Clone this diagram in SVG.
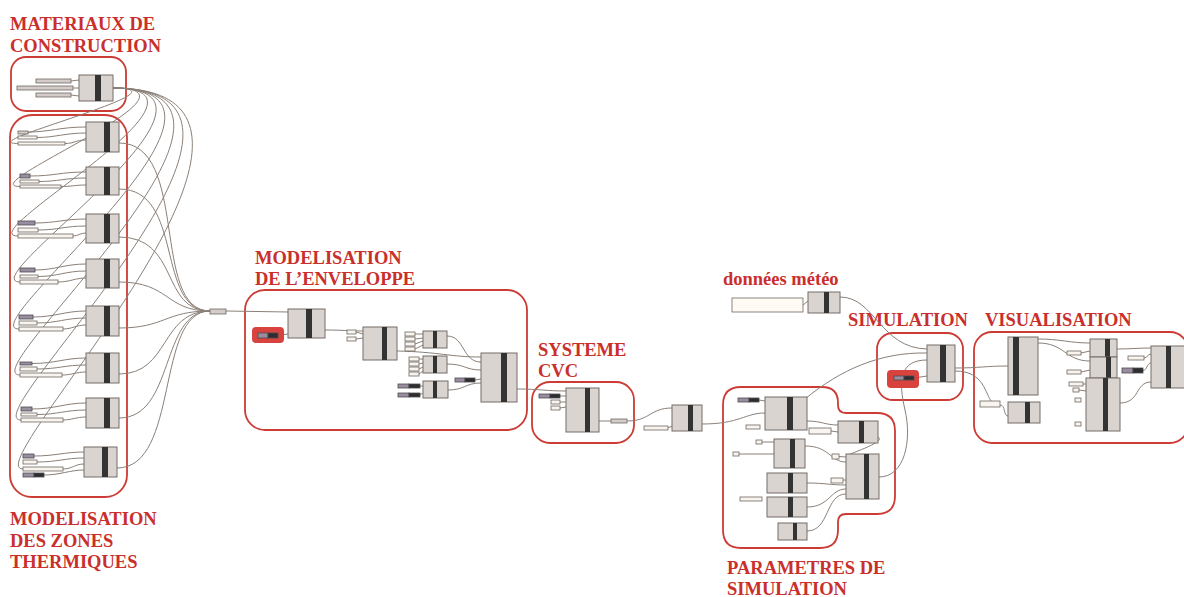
<svg xmlns="http://www.w3.org/2000/svg" width="1184" height="597" viewBox="0 0 1184 597">
<style>
.lbl{font-family:"Liberation Serif","Times New Roman",serif;font-weight:bold;font-size:18.5px;fill:#c9302c}
.grp{fill:none;stroke:#cd3b35;stroke-width:1.8}
.c{fill:#dad4d1;stroke:#746c67;stroke-width:1}
.b{fill:#333}
.w{fill:none;stroke:#8a8078;stroke-width:1}
.p{fill:#f8f4ef;stroke:#6e6661;stroke-width:0.8}
.g{fill:#d3ccc8;stroke:#6e6661;stroke-width:0.8}
.u{fill:#998ea0;stroke:#4d4a4f;stroke-width:0.8}
.d{fill:#2e2e2e;stroke:#4d4a4f;stroke-width:0.8}
.hl{fill:#d8443d}
</style>
<rect width="1184" height="597" fill="#ffffff"/>

<g id="labels">
<text class="lbl" x="10" y="30">MATERIAUX DE</text>
<text class="lbl" x="10" y="52">CONSTRUCTION</text>
<text class="lbl" x="10" y="525">MODELISATION</text>
<text class="lbl" x="10" y="547">DES ZONES</text>
<text class="lbl" x="10" y="568">THERMIQUES</text>
<text class="lbl" x="255" y="264">MODELISATION</text>
<text class="lbl" x="255" y="285">DE L’ENVELOPPE</text>
<text class="lbl" x="538" y="356">SYSTEME</text>
<text class="lbl" x="538" y="377">CVC</text>
<text class="lbl" x="723" y="285">données météo</text>
<text class="lbl" x="848" y="326">SIMULATION</text>
<text class="lbl" x="985" y="326">VISUALISATION</text>
<text class="lbl" x="727" y="574">PARAMETRES DE</text>
<text class="lbl" x="727" y="595">SIMULATION</text>
</g>

<g id="groups">
<rect class="grp" x="11" y="57" width="115" height="54" rx="15"/>
<rect class="grp" x="10" y="115" width="117" height="382" rx="22"/>
<rect class="grp" x="245" y="290" width="282" height="140" rx="20"/>
<rect class="grp" x="532" y="382" width="102" height="61" rx="18"/>
<rect class="grp" x="877" y="333" width="86" height="67" rx="16"/>
<rect class="grp" x="974" y="332" width="214" height="111" rx="18"/>
<path class="grp" d="M741,387 H822 Q838,387 838,403 V405 Q838,413 846,413 H877 Q895,413 895,431 V496 Q895,514 877,514 H846 Q838,514 838,522 V530 Q838,548 820,548 H741 Q723,548 723,530 V405 Q723,387 741,387 Z"/>
</g>

<g id="connectors">
<!-- materiaux inputs -->
<path class="w" d="M71,81 L79,80 M73,88 L79,88 M71,95 L79,96"/>
<!-- materiaux to zones -->
<path class="w" d="M113,88 C 197,88 -32,143.5 18,143.5"/>
<path class="w" d="M113,88 C 219,88 -30,186.5 20,186.5"/>
<path class="w" d="M113,88 C 241,88 -32,236 18,236"/>
<path class="w" d="M113,88 C 263,88 -30,282 20,282"/>
<path class="w" d="M113,88 C 285,88 -31,329 19,329"/>
<path class="w" d="M113,88 C 307,88 -30,375 20,375"/>
<path class="w" d="M113,88 C 329,88 -29,420 21,420"/>
<path class="w" d="M113,88 C 351,88 -27,469 23,469"/>
<!-- zone param wires -->
<path class="w" d="M28,132 C 50,132 60,127 86,127 M37,137.5 C 55,137.5 65,133 86,133 M65,143.5 C 75,143.5 75,140 86,140"/>
<path class="w" d="M30,176 C 55,176 60,172 86,172 M39,181.5 C 58,181.5 65,178 86,178 M61,186.5 C 72,186.5 75,185 86,185"/>
<path class="w" d="M35,223 C 55,223 65,219 86,219 M38,230 C 58,230 65,226 86,226 M73,236 C 78,236 80,233 86,233"/>
<path class="w" d="M35,270 C 55,270 65,264 86,264 M38,276.5 C 58,276.5 65,271 86,271 M58,282 C 70,282 75,278 86,278"/>
<path class="w" d="M33,317 C 55,317 65,311 86,311 M37,323 C 58,323 65,318 86,318 M63,329 C 72,329 76,325 86,325"/>
<path class="w" d="M32,363.5 C 55,363.5 65,358 86,358 M37,369 C 58,369 65,365 86,365 M62,375 C 72,375 76,372 86,372"/>
<path class="w" d="M32,409 C 55,409 65,403 86,403 M37,414.5 C 58,414.5 65,410 86,410 M63,420 C 72,420 76,417 86,417"/>
<path class="w" d="M34,456 C 55,456 65,452 84,452 M37,462 C 58,462 65,458 84,458 M63,469 C 72,469 75,464 84,464 M44,475 C 60,475 70,470 84,470"/>
<!-- zones to collector -->
<path class="w" d="M119,143 C 190,143 150,311 210,311"/>
<path class="w" d="M119,189 C 185,189 155,311 210,311"/>
<path class="w" d="M119,237 C 180,237 160,311 210,311"/>
<path class="w" d="M119,282 C 170,282 165,311 210,311"/>
<path class="w" d="M119,328 C 165,328 165,311 210,311"/>
<path class="w" d="M119,374 C 170,374 160,311 210,311"/>
<path class="w" d="M119,418 C 175,418 160,311 210,311"/>
<path class="w" d="M117,468 C 180,468 155,311 210,311"/>
<!-- enveloppe -->
<path class="w" d="M226,311 L288,312"/>
<path class="w" d="M278,335.5 L288,334"/>
<path class="w" d="M325,330 C 345,330 345,331 363,331"/>
<path class="w" d="M356,332 L363,334 M356,339 L363,338"/>
<path class="w" d="M415,334 L423,334 M415,339 L423,338 M415,344 L423,341 M415,349 L423,345"/>
<path class="w" d="M419,359 L423,359 M419,364 L423,363 M419,369 L423,367 M419,374 L423,371"/>
<path class="w" d="M420,386 L423,386 M420,395 L423,393"/>
<path class="w" d="M397,351 C 440,352 450,357 481,357"/>
<path class="w" d="M447,336 C 465,336 462,362 481,362"/>
<path class="w" d="M447,364 C 465,364 465,370 481,370"/>
<path class="w" d="M448,390 C 465,390 465,383 481,383"/>
<path class="w" d="M475,380 L481,379"/>
<path class="w" d="M517,389 C 540,389 545,391 566,391"/>
<!-- cvc -->
<path class="w" d="M560,396 L566,396 M560,402 L566,402 M560,408 L566,407"/>
<path class="w" d="M599,421 L611,421"/>
<path class="w" d="M627,421 C 650,421 650,408 672,408"/>
<path class="w" d="M668,428 L672,426"/>
<path class="w" d="M702,424 C 740,424 745,413 765,413"/>
<!-- meteo / sim -->
<path class="w" d="M803,305 L808,301"/>
<path class="w" d="M840,297 C 875,297 880,348 927,349"/>
<path class="w" d="M805,399 C 840,370 880,352 927,353"/>
<path class="w" d="M914,378 L927,376"/>
<path class="w" d="M879,477 C 905,477 912,440 905,410 C 898,380 900,360 927,360"/>
<path class="w" d="M955,368 C 980,368 985,366 1008,366"/>
<path class="w" d="M955,371 C 985,371 985,395 992,402"/>
<!-- params -->
<path class="w" d="M759,400 L765,401"/>
<path class="w" d="M807,421 C 822,421 825,425 838,425"/>
<path class="w" d="M831,431 L838,432"/>
<path class="w" d="M762,442 L774,442 M739,454 L774,454"/>
<path class="w" d="M805,446 C 830,446 830,462 846,462"/>
<path class="w" d="M878,437 C 886,441 860,450 848,455"/>
<path class="w" d="M839,456.5 L846,457"/>
<path class="w" d="M807,483 C 825,483 830,485 846,485 M843,480 L846,480"/>
<path class="w" d="M807,507 C 830,507 830,489 846,489"/>
<path class="w" d="M807,531 C 830,531 825,494 846,494"/>
<!-- visu -->
<path class="w" d="M1000,405 C 1006,405 1003,416 1008,416"/>
<path class="w" d="M1038,339 C 1060,339 1070,343 1090,343"/>
<path class="w" d="M1038,343 C 1065,343 1065,361 1090,361"/>
<path class="w" d="M1081,353 L1090,351 M1081,372 L1090,370 M1083,384 L1086,384 M1079,390 L1086,391"/>
<path class="w" d="M1117,349 C 1130,349 1138,348 1151,348"/>
<path class="w" d="M1144,358 C 1148,358 1147,354 1151,354 M1143,370.5 C 1147,370.5 1147,363 1151,363"/>
<path class="w" d="M1120,403 C 1140,403 1135,382 1151,382"/>
</g>

<g id="materiaux">
<rect class="g" x="36" y="79" width="35" height="4"/>
<rect class="g" x="17" y="86" width="56" height="4"/>
<rect class="g" x="36" y="93" width="35" height="4"/>
<rect class="c" x="79" y="75" width="34" height="26"/><rect class="b" x="95" y="75" width="6" height="26"/>
</g>

<g id="zone1">
<rect class="g" x="18" y="131" width="10" height="3"/><rect class="p" x="18" y="136" width="19" height="3"/><rect class="p" x="18" y="142" width="47" height="3"/>
<rect class="c" x="86" y="122" width="33" height="30"/><rect class="b" x="104" y="122" width="6" height="30"/>
</g>
<g id="zone2">
<rect class="u" x="20" y="174" width="10" height="4"/><rect class="p" x="20" y="180" width="19" height="3"/><rect class="p" x="20" y="185" width="41" height="3"/>
<rect class="c" x="86" y="167" width="33" height="28"/><rect class="b" x="104" y="167" width="6" height="28"/>
</g>
<g id="zone3">
<rect class="u" x="18" y="221" width="17" height="4"/><rect class="p" x="18" y="228" width="20" height="4"/><rect class="p" x="18" y="234" width="55" height="4"/>
<rect class="c" x="86" y="214" width="33" height="29"/><rect class="b" x="104" y="214" width="6" height="29"/>
</g>
<g id="zone4">
<rect class="u" x="20" y="268" width="15" height="4"/><rect class="p" x="20" y="275" width="18" height="3"/><rect class="p" x="20" y="280" width="38" height="4"/>
<rect class="c" x="86" y="259" width="33" height="29"/><rect class="b" x="104" y="259" width="6" height="29"/>
</g>
<g id="zone5">
<rect class="u" x="19" y="315" width="14" height="4"/><rect class="p" x="19" y="321" width="18" height="4"/><rect class="p" x="19" y="327" width="44" height="4"/>
<rect class="c" x="86" y="306" width="33" height="30"/><rect class="b" x="104" y="306" width="6" height="30"/>
</g>
<g id="zone6">
<rect class="u" x="20" y="362" width="12" height="3"/><rect class="p" x="20" y="367" width="17" height="4"/><rect class="p" x="20" y="373" width="42" height="4"/>
<rect class="c" x="86" y="353" width="33" height="30"/><rect class="b" x="104" y="353" width="6" height="30"/>
</g>
<g id="zone7">
<rect class="u" x="21" y="407" width="11" height="4"/><rect class="p" x="21" y="413" width="16" height="3"/><rect class="p" x="21" y="418" width="42" height="4"/>
<rect class="c" x="86" y="398" width="33" height="30"/><rect class="b" x="104" y="398" width="6" height="30"/>
</g>
<g id="zone8">
<rect class="u" x="23" y="454" width="11" height="4"/><rect class="p" x="23" y="460" width="14" height="4"/><rect class="p" x="23" y="467" width="40" height="4"/>
<rect class="u" x="23" y="473" width="11" height="4"/><rect class="d" x="34" y="473" width="10" height="4"/>
<rect class="c" x="84" y="447" width="33" height="30"/><rect class="b" x="102" y="447" width="6" height="30"/>
</g>
<g id="collector"><rect class="g" x="210" y="309" width="16" height="5"/></g>

<g id="enveloppe">
<rect class="hl" x="252" y="327" width="32" height="16" rx="4"/>
<rect class="u" x="258" y="333" width="10" height="5"/><rect class="d" x="268" y="333" width="10" height="5"/>
<rect class="c" x="288" y="309" width="37" height="29"/><rect class="b" x="306" y="309" width="6" height="29"/>
<rect class="p" x="347" y="330" width="9" height="4"/><rect class="p" x="347" y="337" width="9" height="4"/>
<rect class="c" x="363" y="327" width="34" height="33"/><rect class="b" x="382" y="327" width="5" height="33"/>
<rect class="p" x="405" y="332" width="10" height="4"/><rect class="p" x="405" y="337" width="10" height="4"/><rect class="p" x="405" y="342" width="10" height="4"/><rect class="p" x="405" y="347" width="10" height="4"/>
<rect class="c" x="423" y="331" width="24" height="17"/><rect class="b" x="433" y="331" width="4" height="17"/>
<rect class="p" x="409" y="357" width="10" height="4"/><rect class="p" x="409" y="362" width="10" height="4"/><rect class="p" x="409" y="367" width="10" height="4"/><rect class="p" x="409" y="372" width="10" height="4"/>
<rect class="c" x="423" y="356" width="24" height="17"/><rect class="b" x="433" y="356" width="4" height="17"/>
<rect class="u" x="398" y="384" width="11" height="4"/><rect class="d" x="409" y="384" width="11" height="4"/>
<rect class="u" x="398" y="393" width="11" height="4"/><rect class="d" x="409" y="393" width="11" height="4"/>
<rect class="c" x="423" y="381" width="25" height="17"/><rect class="b" x="433" y="381" width="4" height="17"/>
<rect class="u" x="455" y="378" width="10" height="4"/><rect class="d" x="465" y="378" width="10" height="4"/>
<rect class="c" x="481" y="353" width="36" height="49"/><rect class="b" x="501" y="353" width="6" height="49"/>
</g>

<g id="cvc">
<rect class="u" x="539" y="394" width="11" height="4"/><rect class="d" x="550" y="394" width="10" height="4"/>
<rect class="p" x="551" y="400" width="9" height="4"/><rect class="p" x="551" y="406" width="9" height="4"/>
<rect class="c" x="566" y="388" width="33" height="44"/><rect class="b" x="585" y="388" width="5" height="44"/>
<rect class="g" x="611" y="419" width="16" height="4"/>
</g>
<g id="connecteur">
<rect class="p" x="644" y="426" width="24" height="4"/>
<rect class="c" x="672" y="405" width="30" height="26"/><rect class="b" x="688" y="405" width="5" height="26"/>
</g>

<g id="meteo">
<rect class="p" x="732" y="298" width="71" height="14" style="fill:#fffaf3"/>
<rect class="c" x="808" y="292" width="32" height="21"/><rect class="b" x="824" y="292" width="5" height="21"/>
</g>

<g id="simulation">
<rect class="hl" x="887" y="370" width="32" height="18" rx="4"/>
<rect class="u" x="894" y="376" width="10" height="4"/><rect class="d" x="904" y="376" width="10" height="4"/>
<rect class="c" x="927" y="345" width="28" height="37"/><rect class="b" x="940" y="345" width="6" height="37"/>
</g>

<g id="parametres">
<rect class="u" x="738" y="398" width="11" height="4"/><rect class="d" x="749" y="398" width="10" height="4"/>
<rect class="c" x="765" y="397" width="42" height="33"/><rect class="b" x="787" y="397" width="6" height="33"/>
<rect class="p" x="746" y="425" width="14" height="4"/>
<rect class="p" x="809" y="428" width="22" height="6"/>
<rect class="c" x="838" y="421" width="40" height="22"/><rect class="b" x="859" y="421" width="5" height="22"/>
<rect class="p" x="756" y="440" width="6" height="4"/>
<rect class="p" x="733" y="452" width="6" height="4"/>
<rect class="c" x="774" y="439" width="31" height="29"/><rect class="b" x="790" y="439" width="5" height="29"/>
<rect class="p" x="832" y="454" width="7" height="5"/>
<rect class="p" x="831" y="478" width="12" height="5"/>
<rect class="c" x="846" y="454" width="33" height="45"/><rect class="b" x="864" y="454" width="5" height="45"/>
<rect class="c" x="767" y="473" width="40" height="20"/><rect class="b" x="788" y="473" width="5" height="20"/>
<rect class="p" x="740" y="497" width="22" height="4"/>
<rect class="c" x="767" y="497" width="40" height="20"/><rect class="b" x="788" y="497" width="5" height="20"/>
<rect class="c" x="778" y="523" width="29" height="17"/><rect class="b" x="793" y="523" width="4" height="17"/>
</g>

<g id="visualisation">
<rect class="c" x="1008" y="337" width="30" height="58"/><rect class="b" x="1013" y="337" width="6" height="58"/>
<rect class="p" x="980" y="401" width="20" height="6"/>
<rect class="c" x="1008" y="402" width="32" height="21"/><rect class="b" x="1025" y="402" width="5" height="21"/>
<rect class="p" x="1067" y="351" width="14" height="4"/>
<rect class="p" x="1067" y="370" width="14" height="4"/>
<rect class="p" x="1069" y="382" width="14" height="4"/>
<rect class="p" x="1073" y="388" width="6" height="4"/>
<rect class="p" x="1075" y="398" width="6" height="4"/>
<rect class="p" x="1075" y="422" width="6" height="4"/>
<rect class="c" x="1090" y="339" width="27" height="18"/><rect class="b" x="1105" y="339" width="5" height="18"/>
<rect class="c" x="1090" y="357" width="27" height="21"/><rect class="b" x="1106" y="357" width="5" height="21"/>
<rect class="c" x="1086" y="378" width="34" height="53"/><rect class="b" x="1103" y="378" width="5" height="53"/>
<rect class="p" x="1128" y="356" width="16" height="4"/>
<rect class="u" x="1122" y="368" width="11" height="5"/><rect class="d" x="1133" y="368" width="10" height="5"/>
<rect class="c" x="1151" y="346" width="40" height="42"/><rect class="b" x="1166" y="346" width="5" height="42"/>
</g>
</svg>
